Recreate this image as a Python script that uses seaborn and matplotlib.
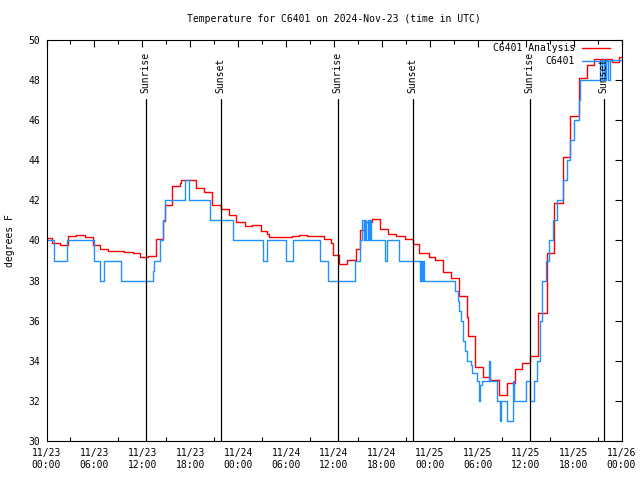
import matplotlib
matplotlib.use("Agg")
import matplotlib.pyplot as plt
import matplotlib.dates as mdates
import matplotlib.transforms as mtransforms
import pandas as pd
import seaborn as sns

# ---------------- data (hours since 2024-11-23 00:00 UTC) ----------------
title = "Temperature for C6401 on 2024-Nov-23 (time in UTC)"
ylabel = "degrees F"
start = pd.Timestamp("2024-11-23 00:00")

ana_hours = [0, 0.66, 1.75, 2.75, 3.7, 4.76, 5.8, 6.76, 7.76, 9.68,
             10.8, 11.77, 12.7, 13.65, 14.6, 14.9, 15.74, 16.7, 16.9, 18.74,
             19.7, 20.75, 21.8, 22.8, 23.7, 24.8, 25.75, 26.8, 27.6, 27.8,
             30.8, 31.6, 32.6, 34.7, 35.6, 35.85, 36.6, 37.65, 38.7, 39.2,
             39.7, 40.8, 41.7, 42.7, 43.8, 44.9, 45.9, 46.7, 47.9, 48.6,
             49.6, 50.7, 51.6, 52.7, 52.8, 53.6, 54.6, 55.5, 56.6, 57.7,
             58.7, 59.6, 60.5, 61.6, 62.7, 63.5, 64.7, 65.6, 66.65, 67.7,
             68.6, 70.8, 71.7, 72]
ana_temp = [40.14, 39.9, 39.76, 40.2, 40.25, 40.15, 39.8, 39.56, 39.5, 39.44,
            39.4, 39.2, 39.25, 40.06, 40.97, 41.77, 42.7, 42.85, 43.0, 42.6,
            42.4, 41.77, 41.56, 41.27, 40.94, 40.72, 40.77, 40.47, 40.3, 40.16,
            40.22, 40.27, 40.2, 40.06, 39.9, 39.28, 38.83, 39.03, 39.6, 40.5,
            40.9, 41.06, 40.56, 40.3, 40.24, 40.06, 39.83, 39.4, 39.17, 39.03,
            38.44, 38.11, 37.23, 36.2, 35.24, 33.7, 33.2, 33.04, 32.3, 32.9,
            33.6, 33.9, 34.24, 36.37, 39.4, 41.85, 44.15, 46.2, 48.1, 48.75,
            49.04, 48.9, 49.17, 49.17]

obs_hours = [0, 0.9, 1.0, 2.6, 5.9, 6.7, 7.2, 9.35, 13.3, 13.5,
             14.2, 14.6, 14.9, 17.3, 17.8, 20.45, 23.3, 27.1, 27.6, 30.0,
             30.9, 34.2, 35.2, 38.6, 39.2, 39.55, 39.7, 39.9, 40.05, 40.2,
             40.4, 40.5, 40.65, 42.4, 42.6, 44.2, 46.8, 46.9, 47.0, 47.1,
             47.3, 51.2, 51.5, 51.7, 51.9, 52.1, 52.2, 52.4, 52.6, 53.2,
             53.3, 53.9, 54.1, 54.3, 54.5, 55.4, 55.5, 56.4, 56.8, 56.9,
             57.7, 58.4, 58.6, 60.1, 60.5, 61.1, 61.4, 61.8, 62.1, 62.6,
             62.9, 63.4, 63.9, 64.7, 65.2, 65.6, 66.1, 66.7, 66.85, 69.35,
             69.5, 69.8, 69.95, 70.1, 70.25, 70.6, 72]
obs_temp = [40, 39.5, 39, 40, 39, 38, 39, 38, 38.5, 39,
            40, 41, 42, 43, 42, 41, 40, 39, 40, 39,
            40, 39, 38, 39, 40, 41, 40, 41, 40, 41,
            40, 41, 40, 39, 40, 39, 38, 39, 38, 39,
            38, 37.5, 37, 36.5, 36, 35.5, 35, 34.5, 34, 33.8,
            33.4, 33, 32, 32.8, 33, 34, 33, 32, 31, 32,
            31, 33, 32, 33, 32, 33, 34, 36, 38, 39,
            40, 41, 42, 43, 44, 45, 46, 47, 48, 49,
            48, 49, 48, 49, 48, 49, 49]

sun_hours = [12.40, 21.83, 36.48, 45.87, 60.52, 69.79]
sun_labels = ["Sunrise", "Sunset", "Sunrise", "Sunset", "Sunrise", "Sunset"]

series_labels = ["C6401 Analysis", "C6401"]
series_colors = ["#ff0000", "#1e90ff"]

# ---------------- figure ----------------
sns.set_style("white", {"axes.edgecolor": "black", "xtick.color": "black",
                        "ytick.color": "black", "text.color": "black",
                        "axes.labelcolor": "black"})
plt.rcParams["font.family"] = ["DejaVu Sans Mono", "DejaVu Sans"]
plt.rcParams["font.size"] = 7

fig = plt.figure(figsize=(6.4, 4.8), dpi=100)
ax = fig.add_axes([46.5 / 640, 39 / 480, 575 / 640, 401 / 480])

ana_df = pd.DataFrame({"time": start + pd.to_timedelta(ana_hours, unit="h"),
                       "temp": ana_temp})
obs_df = pd.DataFrame({"time": start + pd.to_timedelta(obs_hours, unit="h"),
                       "temp": obs_temp})

sns.lineplot(data=ana_df, x="time", y="temp", ax=ax, drawstyle="steps-post",
             color=series_colors[0], lw=1.0, label=series_labels[0])
sns.lineplot(data=obs_df, x="time", y="temp", ax=ax, drawstyle="steps-post",
             color=series_colors[1], lw=1.0, label=series_labels[1])

trans = mtransforms.blended_transform_factory(ax.transData, ax.transAxes)
for h, lab in zip(sun_hours, sun_labels):
    t = start + pd.Timedelta(hours=h)
    ax.axvline(t, ymin=0, ymax=0.853, color="black", lw=0.9)
    ax.text(t, 0.868, lab, transform=trans, rotation=90, ha="center",
            va="bottom", fontsize=7)

ax.set_xlim(start, start + pd.Timedelta(hours=72))
ax.set_ylim(30, 50)
ax.set_yticks(range(30, 51, 2))
ax.xaxis.set_major_locator(mdates.HourLocator(byhour=[0, 6, 12, 18]))
ax.xaxis.set_minor_locator(mdates.HourLocator(byhour=range(0, 24, 3)))
ax.xaxis.set_major_formatter(mdates.DateFormatter("%m/%d\n%H:%M"))
ax.tick_params(axis="both", which="major", direction="in", length=5,
               width=0.8, top=True, right=True, labelsize=7)
ax.tick_params(axis="y", which="major", pad=4.5)
ax.tick_params(axis="x", which="major", pad=5)
ax.tick_params(axis="x", which="minor", direction="in", length=3,
               width=0.8, top=True, bottom=True)
for s in ax.spines.values():
    s.set_linewidth(0.8)
    s.set_color("black")

ax.set_xlabel("")
ax.set_ylabel(ylabel, fontsize=7)
ax.yaxis.set_label_coords((15 - 46.5) / 575, 0.5)

ax.legend(loc="upper right", bbox_to_anchor=((610 - 46.5) / 575, (441 - 43.5) / 401),
          markerfirst=False, frameon=False, handlelength=2.9, handletextpad=0.7,
          labelspacing=0.3, borderpad=0, borderaxespad=0, fontsize=7)

fig.text(333.5 / 640, 1 - 19 / 480, title, ha="center", va="center", fontsize=7)

fig.savefig("out.png", dpi=100)
